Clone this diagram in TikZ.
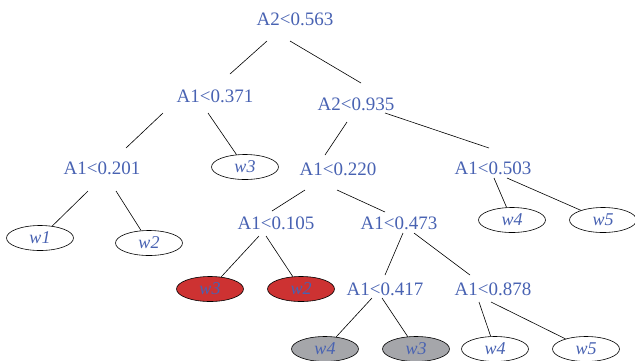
\documentclass[tikz,border=0pt]{standalone}
\usepackage{fontspec}
\setmainfont{Liberation Serif}
\usetikzlibrary{shapes.geometric}
\definecolor{labelblue}{RGB}{72,98,178}
\definecolor{leafred}{RGB}{205,50,50}
\definecolor{leafgray}{RGB}{165,166,170}
\tikzset{
  split/.style={text=labelblue, font=\fontsize{19}{21}\selectfont, inner xsep=2pt, inner ysep=10pt},
  leaf/.style={ellipse, draw=black, line width=0.6pt, fill=white, text=labelblue,
    font=\fontsize{18}{20}\selectfont\itshape, minimum width=67pt, minimum height=25pt, inner sep=0pt},
  redleaf/.style={leaf, fill=leafred},
  grayleaf/.style={leaf, fill=leafgray}
}
\begin{document}
\begin{tikzpicture}[x=1pt, y=-1pt]
      \useasboundingbox (0,0) rectangle (635,360);
      \draw
        (295,19) node[split] (0){A2<0.563}
        (215,96) node[split] (1){A1<0.371}
        (356,104) node[split] (2){A2<0.935}
        (102,168) node[split] (3){A1<0.201}
        (245,167) node[leaf] (4){w3}
        (338,169) node[split] (5){A1<0.220}
        (493,168) node[split] (6){A1<0.503}
        (40,238) node[leaf] (7){w1}
        (149,243) node[leaf] (8){w2}
        (276,223) node[split] (9){A1<0.105}
        (399,223) node[split] (10){A1<0.473}
        (512,220) node[leaf] (11){w4}
        (603,220) node[leaf] (12){w5}
        (210,289) node[redleaf] (13){w3}
        (301,289) node[redleaf] (14){w2}
        (385,289) node[split] (15){A1<0.417}
        (493,289) node[split] (16){A1<0.878}
        (325,349) node[grayleaf] (17){w4}
        (416,349) node[grayleaf] (18){w3}
        (495,349) node[leaf] (19){w4}
        (586,349) node[leaf] (20){w5};
      \begin{scope}[-, line width=0.6pt]
        \draw ([shift={(-28,22)}]0.center) to ([shift={(15,-22)}]1.center);
        \draw ([shift={(-5,22)}]0.center) to ([shift={(5,-21)}]2.center);
        \draw ([shift={(-52,17)}]1.center) to ([shift={(24,-20)}]3.center);
        \draw ([shift={(-7,17)}]1.center) to (4);
        \draw ([shift={(-9,18)}]2.center) to ([shift={(-13,-14)}]5.center);
        \draw ([shift={(29,9)}]2.center) to ([shift={(-4,-20)}]6.center);
        \draw ([shift={(-14,23)}]3.center) to (7);
        \draw ([shift={(14,23)}]3.center) to (8);
        \draw ([shift={(-33,21)}]5.center) to ([shift={(-4,-12)}]9.center);
        \draw ([shift={(-1,21)}]5.center) to ([shift={(-14,-11)}]10.center);
        \draw ([shift={(1,10)}]6.center) to (11);
        \draw ([shift={(14,10)}]6.center) to (12);
        \draw ([shift={(-17,13)}]9.center) to (13);
        \draw ([shift={(-10,13)}]9.center) to (14);
        \draw ([shift={(4,10)}]10.center) to ([shift={(0,-14)}]15.center);
        \draw ([shift={(15,10)}]10.center) to ([shift={(-23,-14)}]16.center);
        \draw ([shift={(-13,9)}]15.center) to (17);
        \draw ([shift={(-3,9)}]15.center) to (18);
        \draw ([shift={(-14,13)}]16.center) to (19);
        \draw ([shift={(-2,13)}]16.center) to (20);
      \end{scope}
    \end{tikzpicture}
\end{document}
